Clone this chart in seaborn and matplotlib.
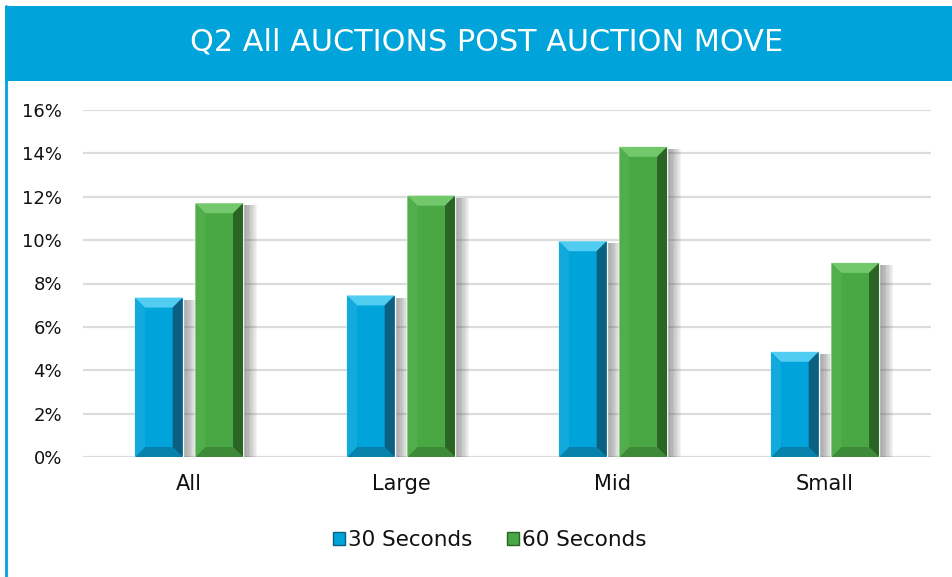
import matplotlib
matplotlib.use("Agg")
import matplotlib.pyplot as plt
import matplotlib.patheffects as pe
from matplotlib.patches import Rectangle, Polygon
from matplotlib.ticker import FuncFormatter
import pandas as pd
import seaborn as sns

categories = ["All", "Large", "Mid", "Small"]
series_names = ["30 Seconds", "60 Seconds"]
sec30 = [7.35, 7.45, 9.95, 4.85]
sec60 = [11.7, 12.05, 14.3, 8.95]
yticks = [0, 2, 4, 6, 8, 10, 12, 14, 16]
title = "Q2 All AUCTIONS POST AUCTION MOVE"

BLUE = "#00a3da"
GREEN = "#4aa844"
SHADES = [
    {"top": "#52cdf2", "left": "#12aadd", "right": "#0b5f80", "bottom": "#0782ad"},
    {"top": "#72c86a", "left": "#52ae4b", "right": "#2a6526", "bottom": "#3d8b38"},
]

sns.set_theme(style="white")
plt.rcParams["font.family"] = ["DejaVu Sans"]
plt.rcParams["text.color"] = "#111111"

df = pd.DataFrame({
    "category": categories * 2,
    "series": [series_names[0]] * 4 + [series_names[1]] * 4,
    "value": sec30 + sec60,
})

fig = plt.figure(figsize=(9.53, 5.77), dpi=100)
ax = fig.add_axes([83 / 953, 120 / 577, 848 / 953, 347 / 577])

sns.barplot(data=df, x="category", y="value", hue="series", order=categories,
            hue_order=series_names, palette=[BLUE, GREEN], width=0.57, gap=0.21,
            saturation=1, ax=ax, legend=False, zorder=3)

ax.set_ylim(0, 16)
ax.set_xlim(-0.5, 3.5)
ax.set_yticks(yticks)
ax.yaxis.set_major_formatter(FuncFormatter(lambda v, _: f"{v:.0f}%"))
ax.grid(axis="y", color="#dcdcdc", linewidth=1.6, zorder=0)
for s in ax.spines.values():
    s.set_visible(False)
ax.set_xlabel("")
ax.set_ylabel("")
ax.tick_params(axis="y", labelsize=13, pad=15, length=0)
ax.tick_params(axis="x", labelsize=15, pad=12, length=0)
for lab in ax.get_yticklabels() + ax.get_xticklabels():
    lab.set_color("#111111")

# bevel look on each bar
fig.canvas.draw()
px_x = ax.transData.inverted().transform([(10, 0), (0, 0)])
bx = abs(px_x[0][0] - px_x[1][0])
px_y = ax.transData.inverted().transform([(0, 10), (0, 0)])
by = abs(px_y[0][1] - px_y[1][1])
shadow = [pe.SimplePatchShadow(offset=(d, -1.5), shadow_rgbFace="#555555", alpha=0.07)
          for d in (10, 9, 8, 7, 6, 5, 4, 3, 2)] + [pe.Normal()]
for sh, container in zip(SHADES, ax.containers):
    for bar in container:
        x, y0 = bar.get_x(), bar.get_y()
        w, h = bar.get_width(), bar.get_height()
        bar.set_path_effects(shadow)
        x1, y1 = x + w, y0 + h
        ax.add_patch(Polygon([(x, y1), (x1, y1), (x1 - bx, y1 - by), (x + bx, y1 - by)],
                             closed=True, facecolor=sh["top"], edgecolor="none", zorder=4))
        ax.add_patch(Polygon([(x, y0), (x1, y0), (x1 - bx, y0 + by), (x + bx, y0 + by)],
                             closed=True, facecolor=sh["bottom"], edgecolor="none", zorder=4))
        ax.add_patch(Polygon([(x, y0), (x + bx, y0 + by), (x + bx, y1 - by), (x, y1)],
                             closed=True, facecolor=sh["left"], edgecolor="none", zorder=4))
        ax.add_patch(Polygon([(x1, y0), (x1 - bx, y0 + by), (x1 - bx, y1 - by), (x1, y1)],
                             closed=True, facecolor=sh["right"], edgecolor="none", zorder=4))

handles = [Rectangle((0, 0), 1, 1, facecolor=c, edgecolor=sh["right"], linewidth=1)
           for c, sh in zip((BLUE, GREEN), SHADES)]
fig.legend(handles, series_names, loc="center", bbox_to_anchor=(490 / 953, 1 - 540 / 577),
           ncol=2, frameon=False, fontsize=15.5, handlelength=0.55, handleheight=0.55,
           handletextpad=0.15, columnspacing=1.6, labelcolor="#111111")

# title banner and frame
fig.patches.append(Rectangle((5 / 953, 1 - 81 / 577), 1, 75 / 577, transform=fig.transFigure,
                             facecolor=BLUE, edgecolor="none", zorder=0))
fig.lines.append(plt.Line2D([6 / 953, 6 / 953], [0, 1 - 6 / 577], transform=fig.transFigure,
                            color=BLUE, linewidth=2))
fig.text(487 / 953, 1 - 42 / 577, title, ha="center", va="center", color="white", fontsize=21.8)

fig.savefig("out.png", dpi=100)
